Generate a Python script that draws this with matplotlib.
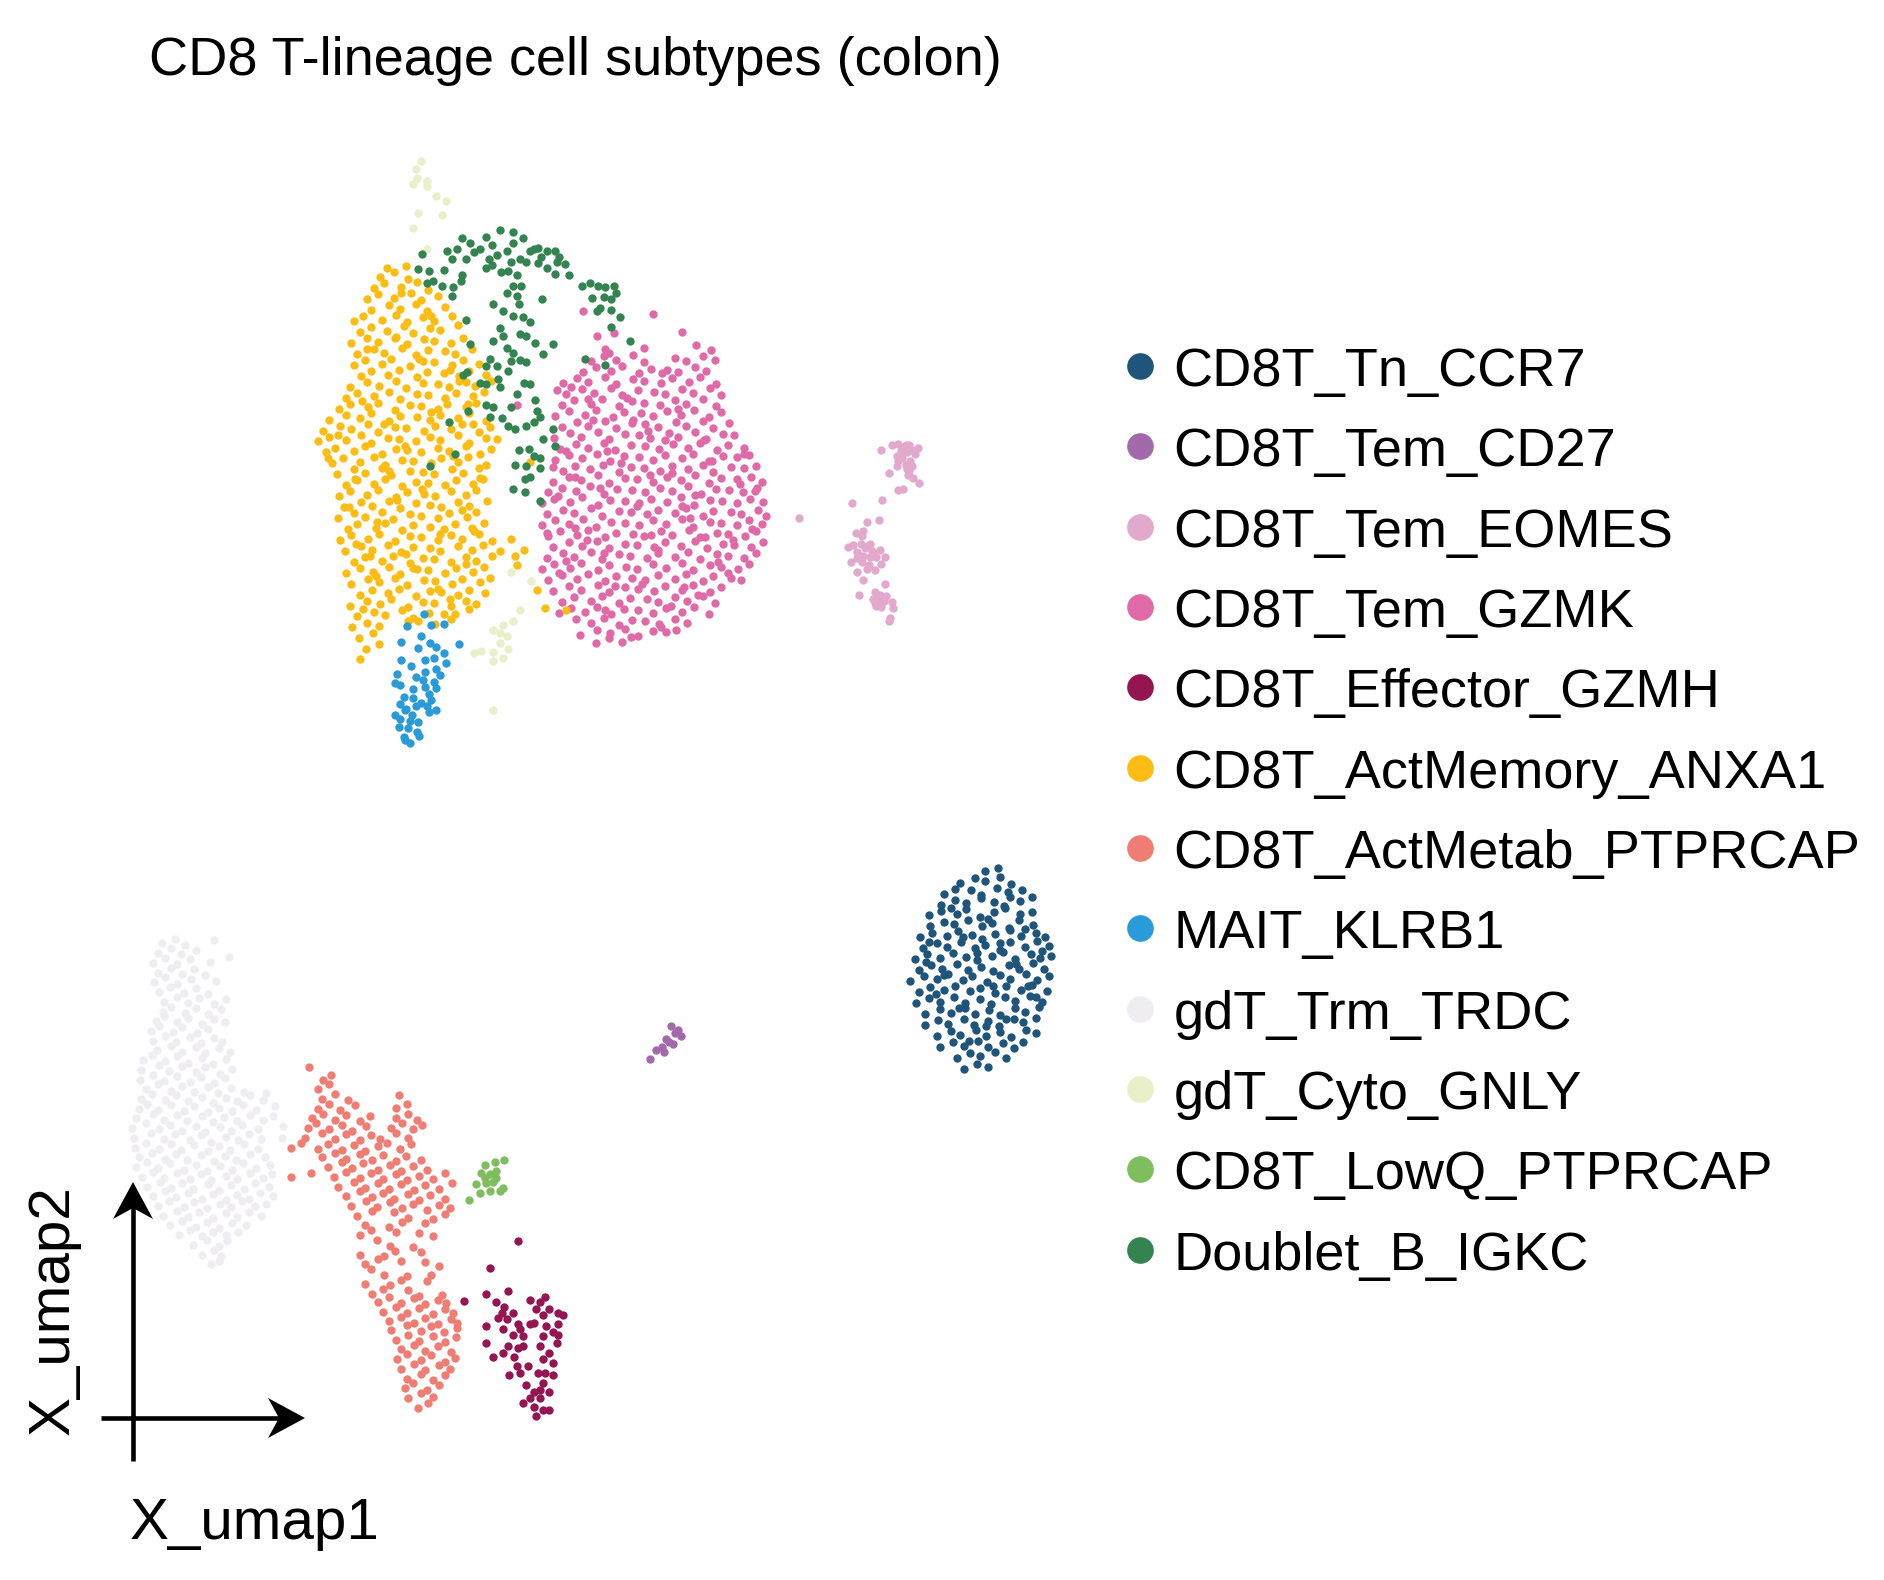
import matplotlib
matplotlib.use("Agg")
import matplotlib.pyplot as plt
from matplotlib.lines import Line2D
from matplotlib.patches import Polygon

plt.rcParams['font.family'] = ['Liberation Sans', 'DejaVu Sans']

# ---- data: UMAP coordinates per cell type ----
categories = ['CD8T_Tn_CCR7', 'CD8T_Tem_CD27', 'CD8T_Tem_EOMES', 'CD8T_Tem_GZMK',
              'CD8T_Effector_GZMH', 'CD8T_ActMemory_ANXA1', 'CD8T_ActMetab_PTPRCAP',
              'MAIT_KLRB1', 'gdT_Trm_TRDC', 'gdT_Cyto_GNLY', 'CD8T_LowQ_PTPRCAP',
              'Doublet_B_IGKC']
colors = ['#1f557a', '#a36aab', '#e2a9cc', '#e06aa8', '#941552', '#fbbd13',
          '#f07d74', '#2a9bd8', '#efedf2', '#e8efc9', '#80bd5f', '#348451']

tn_ccr7 = [
    (8.10,-7.17),(8.21,-7.15),
    (7.90,-7.27),(8.02,-7.23),(8.10,-7.26),(8.23,-7.22),(8.32,-7.28),
    (7.77,-7.36),(7.86,-7.32),(7.99,-7.33),(8.07,-7.37),(8.20,-7.31),(8.29,-7.35),(8.41,-7.33),
    (7.74,-7.45),(7.86,-7.41),(7.95,-7.44),(8.07,-7.40),(8.18,-7.43),(8.26,-7.46),(8.39,-7.42),(8.49,-7.39),
    (7.64,-7.54),(7.74,-7.50),(7.87,-7.53),(7.95,-7.49),(8.06,-7.55),(8.18,-7.51),(8.27,-7.48),(8.39,-7.53),(8.49,-7.51),
    (7.65,-7.63),(7.77,-7.59),(7.85,-7.61),(7.96,-7.58),(8.08,-7.63),(8.16,-7.60),(8.30,-7.64),(8.38,-7.58),(8.50,-7.62),
    (7.57,-7.72),(7.67,-7.68),(7.79,-7.71),(7.88,-7.67),(8.00,-7.70),(8.08,-7.73),(8.19,-7.69),(8.31,-7.66),(8.40,-7.71),(8.52,-7.68),(8.60,-7.72),
    (7.59,-7.81),(7.71,-7.77),(7.79,-7.80),(7.91,-7.76),(8.02,-7.81),(8.10,-7.78),(8.23,-7.82),(8.31,-7.76),(8.43,-7.80),(8.53,-7.75),(8.63,-7.79),
    (7.53,-7.90),(7.63,-7.86),(7.73,-7.89),(7.84,-7.85),(7.95,-7.88),(8.04,-7.91),(8.16,-7.87),(8.25,-7.84),(8.35,-7.90),(8.48,-7.86),(8.56,-7.89),(8.65,-7.87),
    (7.56,-7.99),(7.66,-7.95),(7.75,-7.98),(7.87,-7.94),(7.96,-7.99),(8.07,-7.96),(8.17,-8.00),(8.30,-7.95),(8.38,-7.98),(8.50,-7.93),(8.59,-7.98),
    (7.49,-8.08),(7.60,-8.04),(7.71,-8.06),(7.80,-8.02),(7.92,-8.07),(8.00,-8.04),(8.12,-8.09),(8.23,-8.03),(8.31,-8.06),(8.44,-8.02),(8.53,-8.07),(8.63,-8.04),
    (7.56,-8.17),(7.65,-8.13),(7.77,-8.15),(7.86,-8.12),(7.98,-8.16),(8.06,-8.14),(8.19,-8.18),(8.28,-8.12),(8.40,-8.15),(8.49,-8.11),(8.61,-8.16),
    (7.54,-8.26),(7.64,-8.22),(7.73,-8.25),(7.85,-8.21),(7.94,-8.26),(8.06,-8.23),(8.15,-8.27),(8.27,-8.21),(8.35,-8.24),(8.47,-8.20),(8.57,-8.25),
    (7.61,-8.35),(7.73,-8.31),(7.82,-8.34),(7.94,-8.30),(8.02,-8.35),(8.14,-8.32),(8.23,-8.36),(8.35,-8.30),(8.43,-8.33),(8.55,-8.29),
    (7.61,-8.44),(7.72,-8.40),(7.80,-8.43),(7.93,-8.39),(8.01,-8.44),(8.13,-8.41),(8.22,-8.45),(8.34,-8.39),(8.42,-8.42),(8.52,-8.38),
    (7.71,-8.53),(7.82,-8.49),(7.90,-8.52),(8.03,-8.48),(8.11,-8.53),(8.23,-8.50),(8.32,-8.54),(8.44,-8.48),(8.52,-8.51),
    (7.73,-8.62),(7.84,-8.58),(7.93,-8.61),(8.05,-8.57),(8.13,-8.62),(8.25,-8.59),(8.34,-8.63),(8.42,-8.58),
    (7.87,-8.71),(7.98,-8.67),(8.06,-8.70),(8.19,-8.66),(8.28,-8.71),
    (7.93,-8.80),(8.04,-8.76),(8.13,-8.79),
    (7.82,-7.48),(8.13,-7.57),(8.43,-7.65),(7.64,-7.76),(8.04,-7.85),(8.36,-7.94),(7.77,-8.03),
    (8.17,-8.12),(8.52,-8.21),(7.89,-8.30),(8.28,-8.39),(7.97,-8.57),(8.31,-7.39),(7.70,-8.19),
    (8.46,-8.12),(8.11,-8.45),(7.92,-7.72),(8.57,-7.83),(7.62,-7.92),(8.23,-7.77),
]

tem_cd27 = [(5.52,-8.45),(5.58,-8.48),(5.60,-8.53),(5.55,-8.51),(5.48,-8.56),(5.54,-8.60),
            (5.46,-8.66),(5.40,-8.65),(5.35,-8.72),(5.50,-8.58),(5.45,-8.62)]

tem_eomes = [
    (7.25,-3.71),(7.34,-3.67),(7.39,-3.66),(7.45,-3.67),(7.48,-3.67),(7.55,-3.69),(7.41,-3.72),
    (7.46,-3.73),(7.53,-3.74),(7.38,-3.76),(7.42,-3.78),(7.49,-3.80),(7.45,-3.83),(7.38,-3.84),
    (7.50,-3.84),(7.46,-3.87),(7.31,-3.90),(7.47,-3.92),(7.51,-3.94),(7.56,-3.98),(7.39,-4.04),
    (7.43,-4.03),(7.42,-3.69),(7.50,-3.71),(7.39,-3.80),(7.48,-3.88),
    (7.01,-4.15),(7.26,-4.12),(7.13,-4.30),(7.23,-4.29),
    (7.04,-4.39),(7.10,-4.38),(7.09,-4.42),(6.98,-4.51),(7.02,-4.49),(7.08,-4.48),(7.05,-4.55),
    (7.12,-4.52),(7.16,-4.48),(7.17,-4.54),(7.10,-4.58),(7.16,-4.59),(7.24,-4.53),(7.21,-4.59),
    (7.28,-4.59),(7.00,-4.63),(7.09,-4.63),(7.15,-4.66),(7.20,-4.70),(7.25,-4.65),(7.05,-4.71),
    (7.10,-4.78),(7.13,-4.69),(7.13,-4.50),(7.05,-4.60),(7.18,-4.55),
    (7.28,-4.81),(7.07,-4.90),(7.20,-4.88),(7.24,-4.90),(7.29,-4.91),(7.18,-4.94),(7.23,-4.96),
    (7.27,-4.95),(7.34,-4.96),(7.21,-4.99),(7.25,-5.00),(7.35,-5.01),(7.32,-5.09),(7.31,-5.12),
    (7.24,-4.92),(7.20,-4.97),(6.57,-4.27),
]

tem_gzmk = [
    (4.80,-2.57),(5.37,-2.59),(4.91,-2.77),(5.05,-2.75),(5.61,-2.74),(4.98,-2.88),(5.73,-2.85),(5.85,-2.89),(5.30,-2.87),
    (4.86,-2.98),(4.97,-2.94),(5.07,-2.97),(5.21,-2.93),(5.30,-2.99),(5.55,-2.95),(5.64,-2.98),(5.78,-2.94),(5.88,-2.97),
    (4.80,-3.07),(4.90,-3.03),(5.03,-3.06),(5.12,-3.02),(5.26,-3.08),(5.36,-3.04),(5.49,-3.05),(5.58,-3.07),(5.72,-3.03),(5.81,-3.06),
    (4.63,-3.16),(4.75,-3.12),(4.84,-3.15),(4.98,-3.11),(5.07,-3.17),(5.21,-3.13),(5.30,-3.14),(5.44,-3.16),(5.53,-3.12),(5.67,-3.15),(5.76,-3.11),(5.89,-3.17),
    (4.58,-3.22),(4.66,-3.25),(4.79,-3.21),(4.89,-3.24),(5.03,-3.20),(5.12,-3.26),(5.25,-3.22),(5.38,-3.23),(5.47,-3.25),(5.61,-3.21),(5.70,-3.24),(5.84,-3.20),
    (4.62,-3.34),(4.72,-3.30),(4.86,-3.33),(4.95,-3.29),(5.09,-3.35),(5.20,-3.31),(5.30,-3.32),(5.43,-3.34),(5.55,-3.30),(5.64,-3.33),(5.78,-3.29),(5.89,-3.35),
    (4.57,-3.43),(4.68,-3.39),(4.81,-3.42),(4.90,-3.38),(5.04,-3.44),(5.13,-3.40),(5.27,-3.41),(5.37,-3.43),(5.49,-3.39),(5.60,-3.42),(5.71,-3.38),(5.83,-3.44),(5.93,-3.40),
    (4.62,-3.52),(4.75,-3.48),(4.84,-3.51),(4.98,-3.47),(5.07,-3.53),(5.20,-3.49),(5.31,-3.50),(5.41,-3.52),(5.56,-3.48),(5.64,-3.51),(5.78,-3.47),(5.87,-3.53),(6.00,-3.49),
    (4.56,-3.61),(4.69,-3.57),(4.78,-3.60),(4.92,-3.56),(5.01,-3.62),(5.14,-3.58),(5.26,-3.59),(5.35,-3.61),(5.50,-3.57),(5.58,-3.60),(5.72,-3.56),(5.81,-3.62),(5.95,-3.58),(6.04,-3.59),
    (4.61,-3.70),(4.74,-3.66),(4.84,-3.69),(4.97,-3.65),(5.06,-3.71),(5.19,-3.67),(5.31,-3.68),(5.42,-3.70),(5.54,-3.66),(5.66,-3.69),(5.76,-3.65),(5.90,-3.71),(5.99,-3.67),(6.12,-3.69),
    (4.57,-3.79),(4.68,-3.75),(4.79,-3.78),(4.91,-3.74),(5.02,-3.80),(5.13,-3.76),(5.26,-3.77),(5.37,-3.79),(5.47,-3.75),(5.61,-3.78),(5.70,-3.74),(5.83,-3.80),(5.95,-3.76),(6.06,-3.77),(6.16,-3.75),
    (4.55,-3.85),(4.63,-3.88),(4.73,-3.84),(4.85,-3.87),(4.96,-3.83),(5.09,-3.89),(5.19,-3.85),(5.30,-3.86),(5.43,-3.88),(5.53,-3.84),(5.66,-3.87),(5.78,-3.83),(5.87,-3.89),(6.01,-3.85),(6.12,-3.86),(6.22,-3.84),
    (4.55,-3.97),(4.68,-3.93),(4.78,-3.96),(4.92,-3.92),(5.01,-3.98),(5.14,-3.94),(5.24,-3.95),(5.37,-3.97),(5.49,-3.93),(5.60,-3.96),(5.72,-3.92),(5.83,-3.98),(5.93,-3.94),(6.06,-3.95),(6.18,-3.93),(6.27,-3.97),
    (4.51,-4.06),(4.62,-4.02),(4.74,-4.05),(4.85,-4.01),(4.97,-4.07),(5.08,-4.03),(5.20,-4.04),(5.31,-4.06),(5.43,-4.02),(5.53,-4.05),(5.66,-4.01),(5.77,-4.07),(5.89,-4.03),(6.00,-4.04),(6.11,-4.06),(6.23,-4.02),
    (4.46,-4.15),(4.56,-4.11),(4.69,-4.14),(4.79,-4.10),(4.92,-4.16),(5.02,-4.12),(5.14,-4.13),(5.26,-4.15),(5.36,-4.11),(5.49,-4.14),(5.60,-4.10),(5.71,-4.16),(5.84,-4.12),(5.94,-4.13),(6.06,-4.15),(6.17,-4.11),(6.28,-4.14),
    (4.50,-4.24),(4.63,-4.20),(4.72,-4.23),(4.86,-4.19),(4.95,-4.25),(5.09,-4.21),(5.19,-4.22),(5.32,-4.24),(5.41,-4.20),(5.55,-4.23),(5.64,-4.19),(5.78,-4.25),(5.87,-4.21),(6.01,-4.22),(6.10,-4.24),(6.24,-4.20),
    (4.46,-4.33),(4.57,-4.29),(4.68,-4.32),(4.80,-4.28),(4.90,-4.34),(5.03,-4.30),(5.14,-4.31),(5.26,-4.33),(5.37,-4.29),(5.48,-4.32),(5.61,-4.28),(5.70,-4.34),(5.84,-4.30),(5.93,-4.31),(6.06,-4.33),(6.16,-4.29),(6.27,-4.32),
    (4.51,-4.42),(4.61,-4.38),(4.75,-4.41),(4.84,-4.37),(4.98,-4.43),(5.07,-4.39),(5.21,-4.40),(5.30,-4.42),(5.44,-4.38),(5.53,-4.41),(5.67,-4.37),(5.76,-4.43),(5.90,-4.39),(5.99,-4.40),(6.13,-4.42),(6.22,-4.38),
    (4.55,-4.51),(4.68,-4.47),(4.79,-4.50),(4.91,-4.46),(5.01,-4.52),(5.14,-4.48),(5.24,-4.49),(5.38,-4.51),(5.47,-4.47),(5.60,-4.50),(5.72,-4.46),(5.82,-4.52),(5.95,-4.48),(6.04,-4.49),(6.18,-4.51),(6.28,-4.47),
    (4.50,-4.60),(4.63,-4.56),(4.72,-4.59),(4.86,-4.55),(4.95,-4.61),(5.09,-4.57),(5.18,-4.58),(5.32,-4.60),(5.41,-4.56),(5.55,-4.59),(5.66,-4.55),(5.76,-4.61),(5.90,-4.57),(5.99,-4.58),(6.12,-4.60),(6.22,-4.56),
    (4.46,-4.69),(4.56,-4.65),(4.69,-4.68),(4.78,-4.64),(4.92,-4.70),(5.01,-4.66),(5.15,-4.67),(5.24,-4.69),(5.37,-4.65),(5.48,-4.68),(5.61,-4.64),(5.70,-4.70),(5.84,-4.66),(5.93,-4.67),(6.07,-4.69),(6.16,-4.65),
    (4.51,-4.78),(4.62,-4.74),(4.75,-4.77),(4.84,-4.73),(4.98,-4.79),(5.07,-4.75),(5.20,-4.76),(5.31,-4.78),(5.41,-4.74),(5.55,-4.77),(5.64,-4.73),(5.78,-4.79),(5.87,-4.75),(6.01,-4.76),(6.10,-4.78),
    (4.55,-4.87),(4.68,-4.83),(4.78,-4.86),(4.92,-4.82),(5.01,-4.88),(5.14,-4.84),(5.25,-4.85),(5.38,-4.87),(5.47,-4.83),(5.61,-4.86),(5.70,-4.82),(5.84,-4.88),(5.93,-4.84),
    (4.62,-4.96),(4.72,-4.92),(4.86,-4.95),(4.95,-4.91),(5.09,-4.97),(5.18,-4.93),(5.32,-4.94),(5.41,-4.96),(5.55,-4.92),(5.65,-4.95),(5.78,-4.91),(5.88,-4.97),
    (4.60,-5.05),(4.70,-5.01),(4.81,-5.04),(4.91,-5.00),(5.03,-5.06),(5.13,-5.02),(5.25,-5.03),(5.37,-5.05),(5.48,-5.01),(5.61,-5.04),(5.71,-5.00),(5.83,-5.06),
    (4.74,-5.10),(4.86,-5.13),(4.97,-5.09),(5.09,-5.15),(5.20,-5.11),(5.31,-5.12),(5.42,-5.14),(5.55,-5.10),(5.65,-5.13),
    (4.77,-5.23),(4.91,-5.19),(5.02,-5.22),(5.14,-5.18),(5.25,-5.24),(5.37,-5.20),(5.48,-5.21),(5.56,-5.19),
    (4.90,-5.30),(5.01,-5.26),(5.12,-5.29),(4.25,-3.34),
    (4.70,-3.19),(5.16,-3.28),(5.58,-3.37),(4.88,-3.46),(5.33,-3.55),(5.79,-3.63),(4.66,-3.72),
    (5.11,-3.82),(5.53,-3.90),(6.09,-3.99),(4.59,-4.09),(5.24,-4.17),(5.68,-4.27),(6.19,-4.36),
    (4.83,-4.45),(5.41,-4.53),(5.91,-4.63),(4.60,-4.72),(5.28,-4.81),(5.74,-4.90),(4.98,-5.03),
    (5.44,-5.17),(5.19,-5.25),(5.93,-3.26),(5.45,-3.08),(5.01,-2.91),(4.99,-3.72),(5.72,-4.08),
    (6.03,-4.45),(5.63,-4.84),(4.73,-4.35),(5.86,-3.80),(5.36,-4.41),(4.94,-4.02),(6.21,-4.05),
    (5.47,-3.63),(4.84,-3.29),(5.99,-4.72),(5.52,-4.99),(4.50,-4.39),(6.30,-4.25),(5.21,-3.46),
    (4.73,-3.93),(5.61,-4.17),(4.97,-4.56),(5.80,-4.43),(6.12,-3.74),(5.35,-3.92),(4.66,-4.62),
    (5.06,-4.83),
]

effector_gzmh = [
    (4.26,-10.22),(4.03,-10.44),(3.82,-10.71),(4.00,-10.65),(4.18,-10.63),(4.08,-10.72),(4.15,-10.76),
    (4.22,-10.81),(4.10,-10.85),(4.17,-10.86),(4.26,-10.90),(4.00,-10.92),(4.14,-10.94),(4.22,-10.99),
    (4.30,-11.00),(4.18,-11.08),(4.26,-11.10),(4.00,-11.06),(4.06,-11.17),(4.14,-11.14),(4.23,-11.17),
    (4.25,-11.25),(4.19,-11.32),(4.28,-11.30),(4.34,-11.25),(4.33,-11.40),(4.36,-10.70),(4.44,-10.72),
    (4.48,-10.68),(4.41,-10.78),(4.52,-10.78),(4.59,-10.81),(4.63,-10.83),(4.47,-10.83),(4.39,-10.89),
    (4.36,-10.90),(4.59,-10.90),(4.55,-10.97),(4.47,-11.00),(4.58,-11.06),(4.52,-11.14),(4.47,-11.19),
    (4.55,-11.22),(4.48,-11.30),(4.55,-11.32),(4.47,-11.39),(4.44,-11.44),(4.39,-11.46),(4.52,-11.46),
    (4.44,-11.51),(4.36,-11.51),(4.30,-11.55),(4.39,-11.58),(4.47,-11.61),(4.52,-11.61),(4.41,-11.66),
    (4.13,-10.81),(4.30,-11.08),(4.44,-11.08),(4.49,-10.92),(4.43,-11.30),(4.28,-10.94),(4.59,-10.99),
]

actmemory_anxa1 = [
    (3.13,-2.29),(3.24,-2.25),(3.36,-2.30),
    (3.08,-2.38),(3.16,-2.34),(3.30,-2.37),(3.43,-2.33),(3.52,-2.39),
    (3.02,-2.47),(3.11,-2.43),(3.24,-2.46),(3.38,-2.42),(3.46,-2.48),(3.60,-2.44),
    (3.05,-2.56),(3.20,-2.52),(3.29,-2.55),(3.42,-2.51),(3.51,-2.57),(3.66,-2.53),
    (2.91,-2.65),(2.99,-2.61),(3.14,-2.64),(3.26,-2.60),(3.35,-2.66),(3.48,-2.62),(3.57,-2.65),(3.72,-2.61),
    (2.96,-2.74),(3.05,-2.70),(3.18,-2.73),(3.32,-2.69),(3.40,-2.75),(3.54,-2.71),(3.62,-2.72),(3.77,-2.68),
    (2.89,-2.83),(3.02,-2.79),(3.11,-2.82),(3.26,-2.78),(3.35,-2.84),(3.49,-2.80),(3.57,-2.81),(3.71,-2.83),(3.81,-2.79),
    (2.94,-2.92),(3.08,-2.88),(3.16,-2.91),(3.31,-2.87),(3.42,-2.93),(3.52,-2.89),(3.66,-2.90),(3.74,-2.92),(3.88,-2.88),
    (2.91,-3.01),(3.00,-2.97),(3.14,-3.00),(3.22,-2.96),(3.37,-3.02),(3.48,-2.98),(3.57,-2.99),(3.72,-3.01),(3.81,-2.97),(3.94,-3.00),
    (2.97,-3.10),(3.05,-3.06),(3.19,-3.09),(3.28,-3.05),(3.43,-3.11),(3.51,-3.07),(3.65,-3.08),(3.78,-3.10),(3.86,-3.06),(4.00,-3.09),
    (2.88,-3.19),(3.02,-3.15),(3.12,-3.18),(3.26,-3.14),(3.34,-3.20),(3.48,-3.16),(3.60,-3.17),(3.69,-3.19),(3.83,-3.15),(3.91,-3.18),(4.04,-3.14),
    (2.85,-3.28),(2.94,-3.24),(3.08,-3.27),(3.20,-3.23),(3.29,-3.29),(3.43,-3.25),(3.52,-3.26),(3.66,-3.28),(3.75,-3.24),(3.89,-3.27),(3.98,-3.23),
    (2.79,-3.37),(2.88,-3.33),(3.03,-3.36),(3.11,-3.32),(3.25,-3.38),(3.37,-3.34),(3.46,-3.35),(3.60,-3.37),(3.68,-3.33),(3.83,-3.36),(3.92,-3.32),
    (2.71,-3.46),(2.85,-3.42),(2.96,-3.45),(3.05,-3.41),(3.20,-3.47),(3.29,-3.43),(3.43,-3.44),(3.54,-3.46),(3.62,-3.42),(3.77,-3.45),(3.86,-3.41),(4.00,-3.47),
    (2.66,-3.55),(2.80,-3.51),(2.89,-3.54),(3.03,-3.50),(3.11,-3.56),(3.25,-3.52),(3.34,-3.53),(3.49,-3.55),(3.58,-3.51),(3.71,-3.54),(3.80,-3.50),(3.94,-3.56),(4.03,-3.52),
    (2.62,-3.64),(2.71,-3.60),(2.85,-3.63),(2.97,-3.59),(3.05,-3.65),(3.19,-3.61),(3.28,-3.62),(3.42,-3.64),(3.54,-3.60),(3.62,-3.63),(3.77,-3.59),(3.86,-3.65),(4.00,-3.61),(4.09,-3.62),
    (2.68,-3.73),(2.76,-3.69),(2.91,-3.72),(3.00,-3.68),(3.14,-3.74),(3.26,-3.70),(3.35,-3.71),(3.46,-3.73),(3.60,-3.69),(3.69,-3.72),(3.83,-3.68),(3.95,-3.74),(4.04,-3.70),
    (2.73,-3.82),(2.82,-3.78),(2.96,-3.81),(3.08,-3.77),(3.17,-3.83),(3.31,-3.79),(3.40,-3.80),(3.55,-3.82),(3.63,-3.78),(3.77,-3.81),(3.85,-3.77),(4.00,-3.83),
    (2.77,-3.91),(2.91,-3.87),(3.00,-3.90),(3.14,-3.86),(3.22,-3.92),(3.37,-3.88),(3.48,-3.89),(3.57,-3.91),(3.72,-3.87),(3.81,-3.90),(3.94,-3.86),
    (2.85,-4.00),(2.94,-3.96),(3.08,-3.99),(3.17,-3.95),(3.31,-4.01),(3.42,-3.97),(3.52,-3.98),(3.66,-4.00),(3.75,-3.96),(3.89,-3.99),(3.97,-3.95),
    (2.79,-4.09),(2.88,-4.05),(3.02,-4.08),(3.11,-4.04),(3.26,-4.10),(3.35,-4.06),(3.49,-4.07),(3.58,-4.09),(3.71,-4.05),(3.83,-4.08),(3.92,-4.04),
    (2.83,-4.18),(2.97,-4.14),(3.06,-4.17),(3.20,-4.13),(3.29,-4.19),(3.42,-4.15),(3.54,-4.16),(3.63,-4.18),(3.77,-4.14),(3.86,-4.17),(4.01,-4.13),
    (2.78,-4.27),(2.91,-4.23),(3.00,-4.26),(3.14,-4.22),(3.23,-4.28),(3.37,-4.24),(3.46,-4.25),(3.60,-4.27),(3.69,-4.23),(3.84,-4.26),(3.92,-4.22),
    (2.86,-4.36),(2.94,-4.32),(3.09,-4.35),(3.17,-4.31),(3.31,-4.37),(3.40,-4.33),(3.54,-4.34),(3.65,-4.36),(3.74,-4.32),(3.88,-4.35),(3.98,-4.31),
    (2.80,-4.45),(2.89,-4.41),(3.03,-4.44),(3.12,-4.40),(3.25,-4.46),(3.37,-4.42),(3.46,-4.43),(3.60,-4.45),(3.71,-4.41),(3.80,-4.44),(3.94,-4.40),(4.05,-4.46),
    (2.84,-4.54),(2.97,-4.50),(3.06,-4.53),(3.19,-4.49),(3.30,-4.55),(3.40,-4.51),(3.54,-4.52),(3.62,-4.54),(3.77,-4.50),(3.88,-4.53),(3.97,-4.49),(4.11,-4.54),
    (2.91,-4.63),(3.00,-4.59),(3.14,-4.62),(3.23,-4.58),(3.37,-4.64),(3.48,-4.60),(3.57,-4.61),(3.71,-4.63),(3.83,-4.59),(3.92,-4.62),(4.05,-4.58),
    (2.85,-4.72),(2.96,-4.68),(3.07,-4.71),(3.20,-4.67),(3.29,-4.73),(3.43,-4.69),(3.52,-4.70),(3.66,-4.72),(3.75,-4.68),(3.89,-4.71),(3.98,-4.67),
    (2.89,-4.81),(3.03,-4.77),(3.12,-4.80),(3.25,-4.76),(3.35,-4.82),(3.49,-4.78),(3.58,-4.79),(3.72,-4.81),(3.80,-4.77),(3.95,-4.80),(4.03,-4.76),
    (2.96,-4.90),(3.06,-4.86),(3.19,-4.89),(3.28,-4.85),(3.42,-4.91),(3.54,-4.87),(3.63,-4.88),(3.77,-4.90),(3.86,-4.86),(3.99,-4.89),
    (2.88,-4.99),(3.02,-4.95),(3.13,-4.98),(3.22,-4.94),(3.36,-5.00),(3.48,-4.96),(3.57,-4.97),(3.71,-4.99),(3.83,-4.95),(3.92,-4.98),
    (2.94,-5.08),(3.08,-5.04),(3.17,-5.07),(3.31,-5.03),(3.40,-5.09),(3.53,-5.05),(3.65,-5.06),(3.74,-5.06),(3.86,-5.02),
    (2.90,-5.17),(3.02,-5.13),(3.12,-5.16),(3.36,-5.12),(3.58,-5.14),(3.71,-5.10),
    (2.95,-5.26),(3.07,-5.22),(3.01,-5.35),(3.12,-5.31),(2.96,-5.43),
    (4.20,-4.44),(4.31,-4.53),(4.24,-4.58),(4.25,-4.66),(4.42,-4.86),(4.48,-5.01),(4.66,-5.03),(4.36,-3.81),
    (3.30,-2.42),(3.02,-2.88),(3.45,-2.96),(3.70,-3.05),(2.98,-3.31),(3.55,-3.40),(3.89,-3.50),
    (2.78,-3.59),(3.33,-3.68),(3.73,-3.76),(2.92,-3.95),(3.47,-4.03),(3.80,-4.20),(3.10,-4.30),
    (3.62,-4.40),(2.93,-4.48),(3.34,-4.57),(3.83,-4.65),(3.09,-4.75),(3.60,-4.85),(2.99,-5.02),
    (3.44,-5.12),(3.25,-2.79),(3.85,-3.33),(3.16,-3.50),(2.70,-3.78),(3.95,-3.94),(3.27,-4.12),
    (3.04,-4.58),(3.70,-4.94),(3.55,-2.61),(3.20,-3.88),(3.90,-4.38),(2.87,-4.18),(3.40,-4.68),
    (3.78,-3.14),(3.18,-2.21),(3.34,-2.20),
]

actmetab_ptprcap = [
    (2.54,-8.79),(2.66,-8.89),(2.72,-8.85),(2.62,-8.97),(2.71,-8.93),
    (2.65,-9.05),(2.76,-9.01),(2.86,-9.06),(3.28,-9.02),
    (2.62,-9.13),(2.71,-9.09),(2.80,-9.14),(2.92,-9.10),(3.26,-9.12),(3.35,-9.09),
    (2.57,-9.21),(2.66,-9.17),(2.76,-9.22),(2.85,-9.18),(2.96,-9.23),(3.04,-9.19),(3.26,-9.21),(3.36,-9.17),(3.43,-9.22),
    (2.53,-9.29),(2.60,-9.25),(2.71,-9.30),(2.81,-9.26),(2.90,-9.31),(3.01,-9.27),(3.22,-9.29),(3.31,-9.25),(3.40,-9.30),(3.47,-9.26),
    (2.51,-9.37),(2.65,-9.33),(2.76,-9.38),(2.85,-9.34),(2.96,-9.39),(3.05,-9.35),(3.13,-9.38),(3.26,-9.33),(3.36,-9.37),
    (2.39,-9.45),(2.48,-9.41),(2.62,-9.46),(2.70,-9.42),(2.81,-9.47),(2.91,-9.43),(3.00,-9.48),(3.11,-9.44),(3.18,-9.41),(3.29,-9.46),(3.38,-9.42),
    (2.65,-9.53),(2.76,-9.49),(2.85,-9.54),(2.96,-9.50),(3.06,-9.55),(3.15,-9.51),(3.26,-9.56),(3.34,-9.52),(3.46,-9.55),
    (2.70,-9.61),(2.81,-9.57),(2.90,-9.62),(2.99,-9.58),(3.11,-9.63),(3.21,-9.59),(3.30,-9.64),(3.40,-9.60),(3.51,-9.63),
    (2.39,-9.69),(2.56,-9.66),(2.75,-9.69),(2.85,-9.65),(2.96,-9.70),(3.05,-9.66),(3.15,-9.71),(3.26,-9.67),(3.35,-9.72),(3.45,-9.68),(3.56,-9.71),(3.66,-9.66),
    (2.78,-9.77),(2.91,-9.73),(3.00,-9.78),(3.11,-9.74),(3.20,-9.79),(3.30,-9.75),(3.41,-9.80),(3.50,-9.76),(3.61,-9.79),(3.72,-9.74),
    (2.85,-9.85),(2.96,-9.81),(3.06,-9.86),(3.15,-9.82),(3.24,-9.87),(3.36,-9.83),(3.45,-9.88),(3.54,-9.84),(3.66,-9.87),
    (2.89,-9.93),(3.01,-9.89),(3.10,-9.94),(3.21,-9.90),(3.31,-9.95),(3.40,-9.91),(3.51,-9.96),(3.61,-9.92),(3.70,-9.95),
    (2.94,-10.01),(3.06,-9.97),(3.24,-9.98),(3.36,-10.03),(3.56,-10.04),(3.66,-10.00),
    (3.00,-10.09),(3.20,-10.10),(3.31,-10.06),(3.50,-10.07),
    (2.96,-10.17),(3.05,-10.13),(3.26,-10.14),(3.45,-10.15),(3.56,-10.18),
    (3.10,-10.21),(3.21,-10.26),(3.40,-10.27),
    (2.96,-10.33),(3.16,-10.34),(3.25,-10.30),(3.46,-10.31),
    (3.00,-10.41),(3.11,-10.37),(3.30,-10.38),(3.50,-10.39),(3.61,-10.42),
    (3.05,-10.45),(3.16,-10.50),(3.35,-10.51),(3.55,-10.50),
    (3.00,-10.57),(3.21,-10.58),(3.30,-10.54),(3.51,-10.55),
    (3.06,-10.65),(3.15,-10.61),(3.36,-10.62),(3.45,-10.67),(3.64,-10.66),
    (3.11,-10.72),(3.20,-10.68),(3.30,-10.73),(3.41,-10.69),(3.50,-10.74),(3.60,-10.70),(3.67,-10.73),
    (3.15,-10.80),(3.26,-10.76),(3.35,-10.81),(3.45,-10.77),(3.56,-10.82),(3.66,-10.78),(3.73,-10.81),
    (3.20,-10.88),(3.30,-10.84),(3.41,-10.89),(3.50,-10.85),(3.60,-10.90),(3.71,-10.86),(3.76,-10.89),
    (3.22,-10.95),(3.35,-10.91),(3.46,-10.96),(3.55,-10.92),(3.65,-10.97),(3.76,-10.93),
    (3.26,-11.03),(3.36,-10.99),(3.45,-11.04),(3.56,-11.00),(3.66,-11.05),(3.75,-11.01),
    (3.30,-11.11),(3.41,-11.07),(3.50,-11.12),(3.60,-11.08),(3.71,-11.13),
    (3.27,-11.19),(3.35,-11.15),(3.46,-11.20),(3.55,-11.16),(3.66,-11.21),(3.74,-11.18),
    (3.30,-11.27),(3.41,-11.23),(3.50,-11.28),(3.61,-11.24),(3.70,-11.27),
    (3.35,-11.35),(3.46,-11.31),(3.56,-11.36),(3.66,-11.32),
    (3.33,-11.43),(3.40,-11.39),(3.51,-11.44),(3.61,-11.40),
    (3.36,-11.51),(3.46,-11.47),(3.56,-11.50),(3.44,-11.59),(3.52,-11.55),
]

mait_klrb1 = [
    (3.49,-5.06),(3.55,-5.15),(3.65,-5.14),(3.35,-5.16),(3.78,-5.31),(3.30,-5.29),(3.44,-5.34),
    (3.54,-5.30),(3.59,-5.33),(3.65,-5.38),(3.57,-5.42),(3.67,-5.46),(3.30,-5.44),(3.50,-5.44),
    (3.59,-5.51),(3.27,-5.55),(3.42,-5.58),(3.50,-5.54),(3.48,-5.60),(3.57,-5.62),(3.25,-5.63),
    (3.29,-5.64),(3.50,-5.66),(3.59,-5.67),(3.53,-5.72),(3.32,-5.74),(3.40,-5.75),(3.55,-5.77),
    (3.46,-5.79),(3.29,-5.80),(3.25,-5.89),(3.33,-5.85),(3.42,-5.82),(3.59,-5.85),(3.51,-5.82),
    (3.29,-5.92),(3.37,-5.94),(3.44,-5.95),(3.28,-5.99),(3.36,-6.00),(3.43,-6.03),(3.32,-6.07),
    (3.37,-6.12),(3.33,-6.10),(3.38,-5.49),(3.46,-5.24),(3.62,-5.56),(3.53,-5.87),(3.40,-5.68),
    (3.34,-5.84),(3.45,-6.06),(3.39,-5.89),
]

gdt_trm_trdc = [
    (1.33,-7.77),(1.44,-7.73),(1.52,-7.78),(1.76,-7.74),
    (1.30,-7.85),(1.41,-7.81),(1.49,-7.86),(1.61,-7.82),
    (1.26,-7.93),(1.36,-7.89),(1.46,-7.94),(1.56,-7.90),(1.73,-7.92),(1.88,-7.88),
    (1.30,-8.01),(1.41,-7.97),(1.50,-8.02),(1.60,-7.98),(1.69,-8.03),
    (1.27,-8.09),(1.36,-8.05),(1.46,-8.10),(1.57,-8.06),(1.78,-8.08),
    (1.31,-8.17),(1.40,-8.13),(1.51,-8.18),(1.61,-8.14),(1.71,-8.19),
    (1.35,-8.25),(1.46,-8.21),(1.55,-8.26),(1.64,-8.22),(1.76,-8.27),(1.86,-8.23),
    (1.34,-8.33),(1.41,-8.29),(1.52,-8.34),(1.61,-8.30),(1.71,-8.35),(1.82,-8.31),
    (1.28,-8.41),(1.35,-8.37),(1.46,-8.42),(1.55,-8.38),(1.66,-8.43),(1.76,-8.39),(1.85,-8.42),
    (1.24,-8.49),(1.31,-8.45),(1.42,-8.50),(1.50,-8.46),(1.62,-8.51),(1.71,-8.47),
    (1.26,-8.57),(1.36,-8.53),(1.45,-8.58),(1.56,-8.54),(1.65,-8.59),(1.76,-8.55),(1.83,-8.58),
    (1.29,-8.65),(1.41,-8.61),(1.50,-8.66),(1.61,-8.62),(1.69,-8.67),(1.80,-8.63),(1.89,-8.66),
    (1.18,-8.73),(1.25,-8.69),(1.36,-8.74),(1.46,-8.70),(1.55,-8.75),(1.66,-8.71),(1.75,-8.76),(1.86,-8.72),
    (1.16,-8.81),(1.31,-8.77),(1.39,-8.82),(1.50,-8.78),(1.61,-8.83),(1.69,-8.79),(1.81,-8.84),(1.91,-8.80),
    (1.15,-8.89),(1.26,-8.85),(1.35,-8.90),(1.46,-8.86),(1.56,-8.91),(1.65,-8.87),(1.76,-8.92),(1.85,-8.88),
    (1.20,-8.97),(1.30,-8.93),(1.41,-8.98),(1.50,-8.94),(1.60,-8.99),(1.71,-8.95),(1.79,-9.00),(1.90,-8.96),(2.01,-8.99),
    (1.16,-9.05),(1.25,-9.01),(1.36,-9.06),(1.45,-9.02),(1.55,-9.07),(1.66,-9.03),(1.75,-9.08),(1.86,-9.04),(1.95,-9.07),(2.06,-9.02),(2.16,-9.06),
    (1.14,-9.13),(1.21,-9.09),(1.30,-9.14),(1.41,-9.10),(1.51,-9.15),(1.60,-9.11),(1.71,-9.16),(1.80,-9.12),(1.91,-9.15),(2.00,-9.10),(2.11,-9.14),(2.26,-9.11),
    (1.12,-9.21),(1.26,-9.17),(1.35,-9.22),(1.46,-9.18),(1.54,-9.23),(1.66,-9.19),(1.75,-9.24),(1.84,-9.20),(1.95,-9.23),(2.06,-9.18),(2.16,-9.22),(2.25,-9.19),
    (1.09,-9.29),(1.20,-9.25),(1.31,-9.30),(1.40,-9.26),(1.50,-9.31),(1.61,-9.27),(1.69,-9.32),(1.81,-9.28),(1.90,-9.31),(1.99,-9.26),(2.12,-9.30),(2.33,-9.27),
    (1.10,-9.37),(1.24,-9.33),(1.35,-9.38),(1.44,-9.34),(1.56,-9.39),(1.65,-9.35),(1.74,-9.40),(1.86,-9.36),(1.96,-9.39),(2.05,-9.34),(2.15,-9.38),(2.32,-9.37),
    (1.11,-9.45),(1.20,-9.41),(1.31,-9.46),(1.41,-9.42),(1.49,-9.47),(1.60,-9.43),(1.71,-9.48),(1.80,-9.44),(1.89,-9.47),(2.01,-9.42),(2.12,-9.46),
    (1.14,-9.53),(1.25,-9.49),(1.36,-9.54),(1.45,-9.50),(1.54,-9.55),(1.65,-9.51),(1.76,-9.56),(1.85,-9.52),(1.94,-9.55),(2.06,-9.50),(2.18,-9.53),
    (1.12,-9.61),(1.21,-9.57),(1.30,-9.62),(1.40,-9.58),(1.51,-9.63),(1.61,-9.59),(1.70,-9.64),(1.81,-9.60),(1.91,-9.63),(2.00,-9.58),(2.11,-9.62),(2.22,-9.59),
    (1.17,-9.69),(1.26,-9.65),(1.35,-9.70),(1.46,-9.66),(1.56,-9.71),(1.65,-9.67),(1.74,-9.72),(1.86,-9.68),(1.95,-9.71),(2.06,-9.66),(2.16,-9.70),(2.24,-9.67),
    (1.21,-9.77),(1.32,-9.73),(1.41,-9.78),(1.50,-9.74),(1.59,-9.79),(1.71,-9.75),(1.80,-9.80),(1.90,-9.76),(2.01,-9.79),(2.10,-9.74),(2.21,-9.77),
    (1.26,-9.85),(1.36,-9.81),(1.45,-9.86),(1.55,-9.82),(1.66,-9.87),(1.75,-9.83),(1.86,-9.88),(1.95,-9.84),(2.05,-9.87),(2.14,-9.82),(2.25,-9.85),
    (1.30,-9.93),(1.39,-9.89),(1.51,-9.94),(1.60,-9.90),(1.70,-9.95),(1.81,-9.91),(1.90,-9.94),(1.99,-9.89),(2.10,-9.93),(2.19,-9.91),
    (1.34,-10.01),(1.46,-9.97),(1.55,-10.02),(1.64,-9.98),(1.75,-10.03),(1.86,-9.99),(1.95,-10.02),(2.05,-9.98),(2.15,-10.01),
    (1.40,-10.09),(1.50,-10.05),(1.61,-10.10),(1.70,-10.06),(1.80,-10.11),(1.91,-10.07),(2.02,-10.09),
    (1.47,-10.17),(1.56,-10.13),(1.66,-10.18),(1.75,-10.14),(1.86,-10.17),(1.96,-10.14),
    (1.59,-10.25),(1.70,-10.21),(1.80,-10.26),(1.87,-10.22),
    (1.66,-10.33),(1.76,-10.29),(1.82,-10.34),(1.74,-10.41),(1.80,-10.38),
    (2.19,-9.00),
]

gdt_cyto_gnly = [
    (3.46,-1.33),(3.42,-1.40),(3.43,-1.47),(3.40,-1.52),(3.51,-1.50),(3.51,-1.54),(3.59,-1.62),
    (3.67,-1.66),(3.44,-1.76),(3.64,-1.78),(3.40,-1.88),(3.51,-2.06),(4.20,-4.71),(4.37,-4.79),
    (4.28,-5.03),(4.22,-5.12),(4.14,-5.15),(4.06,-5.19),(4.11,-5.22),(4.17,-5.24),(3.90,-5.38),
    (3.96,-5.36),(4.06,-5.37),(4.11,-5.30),(4.18,-5.35),(4.06,-5.45),(4.14,-5.42),(4.06,-5.85),
]

lowq_ptprcap = [
    (3.99,-9.59),(4.07,-9.57),(4.15,-9.55),(3.96,-9.66),(4.03,-9.67),(4.08,-9.64),(3.92,-9.75),
    (4.00,-9.74),(4.06,-9.73),(4.14,-9.78),(3.95,-9.82),(4.03,-9.81),(4.11,-9.81),(3.86,-9.88),
    (3.99,-9.70),(4.08,-9.70),
]

doublet_b_igkc = [
    (3.47,-2.10),(3.44,-2.22),(3.53,-2.24),(3.51,-2.34),(3.56,-2.32),(3.65,-2.23),(3.64,-2.36),
    (3.73,-2.37),(3.72,-2.44),(3.68,-2.07),(3.72,-2.14),(3.76,-2.06),(3.80,-1.97),(3.87,-2.01),
    (3.83,-2.14),(3.95,-2.06),(4.00,-1.96),(4.02,-2.14),(4.11,-1.90),(4.09,-2.11),(4.00,-2.21),
    (4.05,-2.19),(4.17,-2.07),(4.22,-1.92),(4.22,-2.01),(4.20,-2.16),(4.28,-2.14),(4.33,-2.16),
    (4.36,-2.07),(4.39,-2.06),(4.43,-2.05),(4.50,-2.07),(4.57,-2.07),(4.58,-2.16),(4.57,-2.26),
    (4.50,-2.21),(4.43,-2.17),(4.68,-2.27),(3.80,-2.27),(3.79,-2.32),(4.18,-2.24),(4.25,-2.27),
    (4.29,-2.36),(4.22,-2.36),(4.17,-2.42),(4.25,-2.44),(4.27,-2.51),(4.46,-2.47),(4.06,-2.51),
    (4.14,-2.57),(4.22,-2.61),(4.36,-2.66),(4.28,-2.76),(4.33,-2.77),(4.11,-2.71),(4.06,-2.81),
    (4.14,-2.77),(4.17,-2.87),(4.22,-2.91),(4.28,-2.97),(4.33,-2.99),(4.55,-2.84),(4.47,-2.92),
    (4.03,-2.96),(4.00,-3.02),(4.09,-3.02),(4.18,-3.06),(3.95,-3.16),(4.00,-3.17),(4.11,-3.19),
    (4.31,-3.16),(4.36,-3.17),(3.83,-2.64),(3.87,-2.84),(3.84,-3.07),(3.81,-3.09),(4.00,-3.34),
    (4.06,-3.36),(4.20,-3.36),(3.85,-3.39),(4.03,-3.44),(4.18,-3.51),(4.24,-3.54),(4.33,-3.51),
    (4.39,-3.48),(4.44,-3.44),(4.42,-3.39),(4.55,-3.54),(4.57,-3.68),(4.27,-3.71),(4.35,-3.70),
    (4.39,-3.76),(4.44,-3.78),(4.24,-3.83),(4.33,-3.84),(4.44,-3.86),(4.36,-3.93),(4.22,-4.03),
    (4.32,-4.06),(4.44,-4.13),(3.69,-3.48),(3.74,-3.74),(3.54,-3.84),(4.79,-2.36),(4.85,-2.34),
    (4.92,-2.36),(4.98,-2.37),(5.05,-2.36),(5.07,-2.42),(5.03,-2.47),(4.87,-2.46),(4.94,-2.54),
    (5.03,-2.56),(5.10,-2.62),(5.03,-2.70),(4.91,-2.57),(5.18,-2.81),(4.81,-2.96),(4.98,-3.01),
    (3.90,-2.08),(4.05,-2.02),(4.30,-1.97),(4.45,-2.12),(4.12,-2.25),(4.30,-2.62),(4.40,-2.83),
    (4.20,-2.98),(4.10,-3.13),(4.25,-3.25),(4.40,-3.30),(4.32,-3.95),(4.65,-2.18),(4.97,-2.45),
    (4.60,-2.12),(4.13,-3.45),(4.47,-3.62),
]

cells = [tn_ccr7, tem_cd27, tem_eomes, tem_gzmk, effector_gzmh, actmemory_anxa1,
         actmetab_ptprcap, mait_klrb1, gdt_trm_trdc, gdt_cyto_gnly, lowq_ptprcap,
         doublet_b_igkc]

# ---- figure ----
W, H = 1884, 1581
fig = plt.figure(figsize=(W / 300, H / 300), dpi=300)
ax = fig.add_axes([0, 0, 1, 1])
ax.set_xlim(0, 15.50)
ax.set_ylim(-13.007, 0)
ax.axis('off')

for pts, c in zip(cells, colors):
    xs = [p[0] for p in pts]
    ys = [p[1] for p in pts]
    ax.scatter(xs, ys, s=4.0, c=c, linewidths=0)


def fp(x, y):
    # pixel position (origin top-left) -> figure fraction
    return (x / W, 1 - y / H)


# small umap arrows in the lower-left corner
lw = 1.1
x0, y0 = fp(101, 1419)
x1, _ = fp(285, 1419)
ax.plot([x0, x1], [y0, y0], color='black', lw=lw, transform=ax.transAxes,
        solid_capstyle='butt')
vx, vy0 = fp(133, 1462)
_, vy1 = fp(133, 1203)
ax.plot([vx, vx], [vy0, vy1], color='black', lw=lw, transform=ax.transAxes,
        solid_capstyle='butt')
heads = [
    [fp(305, 1419), fp(268, 1399), fp(279, 1419), fp(268, 1439)],
    [fp(133, 1183), fp(113, 1220), fp(133, 1209), fp(153, 1220)],
]
for hd in heads:
    ax.add_patch(Polygon(hd, closed=True, facecolor='black', edgecolor='none',
                         transform=ax.transAxes))

ax.text(255 / W, 1 - 1539 / H, 'X_umap1', transform=ax.transAxes, fontsize=14,
        ha='center', va='baseline')
ax.text(54 / W, 1 - 1310 / H, 'X_umap2', transform=ax.transAxes, fontsize=14,
        ha='center', va='center', rotation=90)

ax.text(149 / W, 1 - 75 / H, 'CD8 T-lineage cell subtypes (colon)',
        transform=ax.transAxes, fontsize=13, ha='left', va='baseline')

handles = [Line2D([], [], marker='o', ls='', markersize=6.4, markerfacecolor=c,
                  markeredgewidth=0, label=n) for n, c in zip(categories, colors)]
ax.legend(handles=handles, loc='upper left', bbox_to_anchor=(1124 / W, 1 - 347 / H),
          frameon=False, fontsize=13, handlelength=0.6, handletextpad=0.31,
          labelspacing=0.56, borderpad=0, borderaxespad=0)

fig.savefig('out.png', dpi=300)
